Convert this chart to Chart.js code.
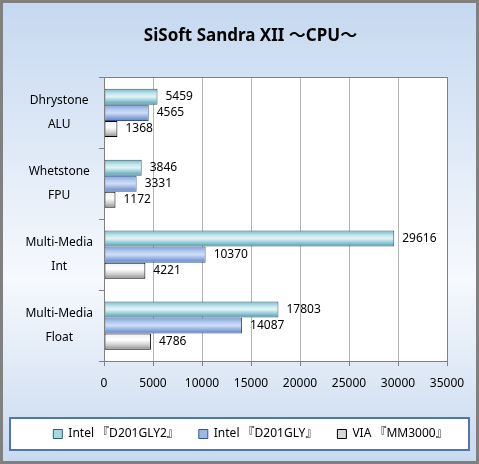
<!DOCTYPE html>
<html>
<head>
<meta charset="utf-8">
<script src="https://cdn.jsdelivr.net/npm/chart.js@4"></script>
<style>
  html, body { margin: 0; padding: 0; background: #fff; }
  #wrap { width: 479px; height: 464px; position: relative; }
</style>
</head>
<body>
<div id="wrap"><canvas id="sandra" width="479" height="464"></canvas></div>
<script>
// SiSoft Sandra XII CPU benchmark, three boards compared

const categories = [['Dhrystone', 'ALU'], ['Whetstone', 'FPU'], ['Multi-Media', 'Int'], ['Multi-Media', 'Float']];
const seriesNames = ['Intel 『D201GLY2』', 'Intel 『D201GLY』', 'VIA 『MM3000』'];
const d201gly2 = [5459, 3846, 29616, 17803];
const d201gly = [4565, 3331, 10370, 14087];
const mm3000 = [1368, 1172, 4221, 4786];
const xTicks = [0, 5000, 10000, 15000, 20000, 25000, 30000, 35000];

const FONT = '"Noto Sans", "Noto Sans CJK JP", sans-serif';

// gradient stops for each series (vertical across the bar)
const barStyles = [
  { stops: [[0, '#74b6c6'], [0.3, '#c4e6ed'], [0.5, '#e3f4f7'], [0.75, '#94cad8'], [1, '#4f97a7']], fill: '#a8d8e2', border: '#2f5d66' },
  { stops: [[0, '#7d9fdc'], [0.3, '#b6cbef'], [0.5, '#d0def6'], [0.75, '#93afe2'], [1, '#5e82c6']], fill: '#9db8e6', border: '#34558f' },
  { stops: [[0, '#f0f0f0'], [0.4, '#ffffff'], [0.7, '#d0d0d0'], [1, '#8c8c8c']], fill: '#d8d8d8', border: '#000000' }
];

// page background, frame, plot border and legend box
const framePlugin = {
  id: 'frame',
  beforeDraw(chart) {
    const ctx = chart.ctx;
    const w = chart.width, h = chart.height;
    const g = ctx.createLinearGradient(0, 0, 0, h);
    g.addColorStop(0, '#c5d8f0');
    g.addColorStop(0.6, '#f6f9fd');
    g.addColorStop(1, '#c8d9ef');
    ctx.save();
    ctx.fillStyle = g;
    ctx.fillRect(0, 0, w, h);
    ctx.strokeStyle = '#808080';
    ctx.lineWidth = 3;
    ctx.strokeRect(1.5, 1.5, w - 3, h - 3);

    const a = chart.chartArea;
    ctx.fillStyle = '#ffffff';
    ctx.fillRect(a.left, a.top, a.right - a.left, a.bottom - a.top);

    ctx.fillStyle = '#ffffff';
    ctx.fillRect(10, 418, w - 20, 32);
    ctx.strokeStyle = '#4f76ad';
    ctx.lineWidth = 2;
    ctx.strokeRect(10, 418, w - 20, 32);
    ctx.restore();
  },
  afterDatasetsDraw(chart) {
    const ctx = chart.ctx;
    const a = chart.chartArea;
    ctx.save();
    ctx.strokeStyle = '#808080';
    ctx.lineWidth = 1;
    ctx.strokeRect(Math.round(a.left) + 0.5, Math.round(a.top) + 0.5, Math.round(a.right - a.left), Math.round(a.bottom - a.top));
    ctx.restore();
  }
};

// shaded bars: each bar gets its own copy of the options with a gradient fill
const shadePlugin = {
  id: 'shade',
  beforeDatasetDraw(chart, args) {
    const style = barStyles[args.index];
    args.meta.data.forEach(el => {
      const p = el.getProps(['y', 'height'], true);
      const g = chart.ctx.createLinearGradient(0, p.y - p.height / 2, 0, p.y + p.height / 2);
      style.stops.forEach(s => g.addColorStop(s[0], s[1]));
      el.options = Object.assign({}, el.options, { backgroundColor: g });
    });
  }
};

// value labels to the right of each bar
const valuePlugin = {
  id: 'values',
  afterDatasetsDraw(chart) {
    const ctx = chart.ctx;
    ctx.save();
    ctx.font = '12px ' + FONT;
    ctx.fillStyle = '#000';
    ctx.textBaseline = 'middle';
    ctx.textAlign = 'left';
    chart.data.datasets.forEach((ds, i) => {
      chart.getDatasetMeta(i).data.forEach((el, j) => {
        ctx.fillText(String(ds.data[j]), el.x + 8, el.y);
      });
    });
    ctx.restore();
  }
};

const seriesData = [d201gly2, d201gly, mm3000];

new Chart(document.getElementById('sandra'), {
  type: 'bar',
  data: {
    labels: categories,
    datasets: seriesData.map((d, i) => ({
      label: seriesNames[i],
      data: d,
      backgroundColor: barStyles[i].fill,
      borderColor: barStyles[i].border,
      borderWidth: 1,
      borderSkipped: false,
      categoryPercentage: 0.68,
      barPercentage: 1
    }))
  },
  options: {
    indexAxis: 'y',
    responsive: false,
    animation: false,
    devicePixelRatio: 1,
    layout: { padding: { left: 22, right: 0, top: 8, bottom: 14 } },
    scales: {
      x: {
        min: 0,
        max: 35000,
        afterBuildTicks(scale) { scale.ticks = xTicks.map(v => ({ value: v })); },
        afterFit(scale) { scale.height = 47; },
        ticks: {
          color: '#000', font: { family: FONT, size: 12 }, padding: 10,
          maxRotation: 0, autoSkip: false,
          callback: v => String(v)
        },
        grid: { color: '#b4b4b4', tickLength: 5, tickColor: '#808080' },
        border: { color: '#808080' }
      },
      y: {
        afterFit(scale) { scale.width = 82; },
        ticks: { color: '#000', font: { family: FONT, size: 12, lineHeight: 2 }, crossAlign: 'center', padding: 6 },
        grid: { offset: true, drawOnChartArea: false, tickLength: 5, color: '#808080' },
        border: { color: '#808080' }
      },
      // empty right-hand axis, only keeps a margin right of the plot
      yRight: {
        type: 'linear',
        position: 'right',
        afterFit(scale) { scale.width = 32; },
        ticks: { display: false },
        grid: { display: false },
        border: { display: false }
      }
    },
    plugins: {
      title: {
        display: true,
        text: 'SiSoft Sandra XII ～CPU～',
        color: '#000',
        font: { family: FONT, size: 17, weight: 'bold' },
        padding: { top: 18, bottom: 31 }
      },
      legend: {
        position: 'bottom',
        labels: {
          color: '#000',
          font: { family: FONT, size: 12 },
          boxWidth: 9,
          boxHeight: 9,
          padding: 20
        }
      },
      tooltip: { enabled: false }
    }
  },
  plugins: [framePlugin, shadePlugin, valuePlugin]
});
</script>
</body>
</html>
